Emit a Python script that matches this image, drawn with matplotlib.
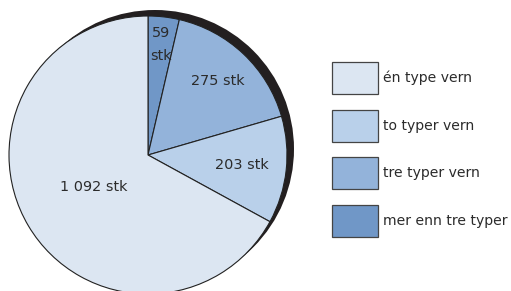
import numpy as np
import matplotlib
matplotlib.use("Agg")
import matplotlib.pyplot as plt
from matplotlib.patches import Circle, Rectangle

# Data (clockwise from top)
categories = ["mer enn tre typer", "tre typer vern", "to typer vern", "én type vern"]
values = [59, 275, 203, 1092]
labels = ["59\nstk", "275 stk", "203 stk", "1 092 stk"]
colors = ["#7097c7", "#93b3da", "#b9d0ea", "#dce6f2"]
legend_order = ["én type vern", "to typer vern", "tre typer vern", "mer enn tre typer"]

W, H = 511, 291
fig = plt.figure(figsize=(W / 100, H / 100), dpi=100)
ax = fig.add_axes([0, 0, 1, 1])

cx, cy, r = 148, H - 155, 139
text_color = "#2b2b2b"

# shadow
ax.add_patch(Circle((cx + 7, cy + 6), r, facecolor="#231f20", edgecolor="none", zorder=0))

wedges, _ = ax.pie(values, colors=colors, startangle=90, counterclock=False,
                   center=(cx, cy), radius=r,
                   wedgeprops=dict(edgecolor="#222222", linewidth=0.8))
for w in wedges:
    w.set_zorder(1)

label_frac = [0.80, 0.73, 0.68, 0.45]
for w, lab, f in zip(wedges, labels, label_frac):
    ang = np.deg2rad((w.theta1 + w.theta2) / 2)
    x = cx + f * r * np.cos(ang)
    y = cy + f * r * np.sin(ang)
    ax.text(x, y, lab, ha="center", va="center", fontsize=10.4, color=text_color,
            linespacing=1.8, zorder=3)

# legend
col_map = dict(zip(categories, colors))
box_x, box_w, box_h = 332, 46, 32
for i, cat in enumerate(legend_order):
    top = 62 + i * 47.6
    ax.add_patch(Rectangle((box_x, H - top - box_h), box_w, box_h,
                           facecolor=col_map[cat], edgecolor="#444444", linewidth=0.9, zorder=3))
    ax.text(box_x + box_w + 5, H - top - box_h / 2, cat, ha="left", va="center",
            fontsize=10.1, color=text_color, zorder=3)

ax.set_xlim(0, W)
ax.set_ylim(0, H)
ax.set_aspect("equal")
ax.axis("off")
fig.savefig("out.png", dpi=100)
